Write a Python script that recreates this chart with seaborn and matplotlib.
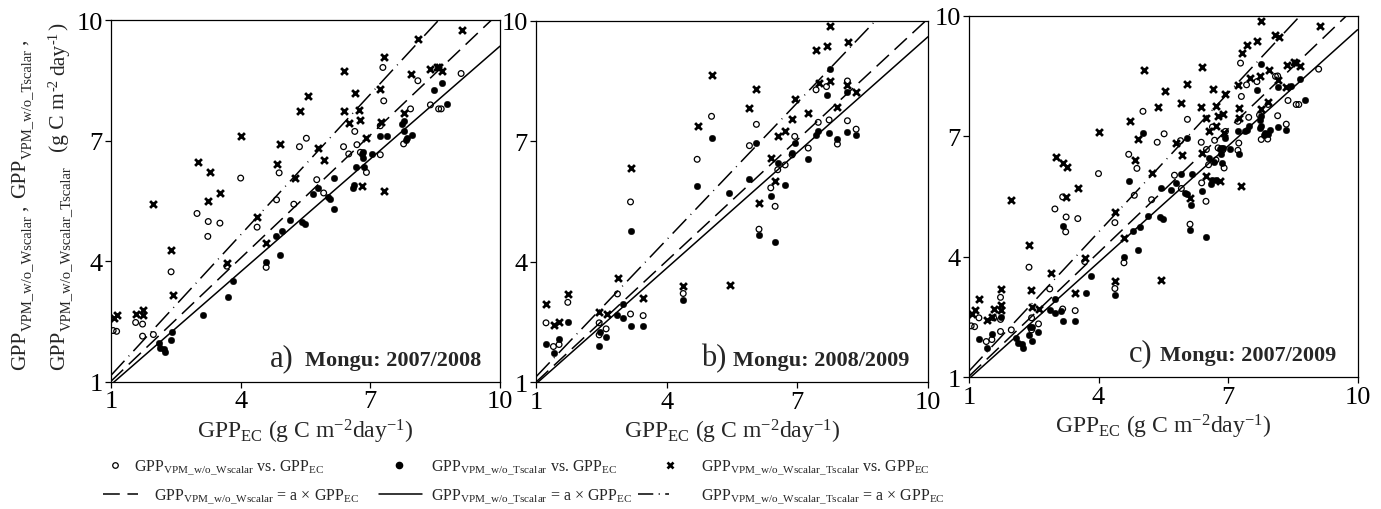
import numpy as np
import pandas as pd
import matplotlib
matplotlib.use("Agg")
import matplotlib.pyplot as plt
import seaborn as sns
from matplotlib.lines import Line2D

sns.set_theme(style="ticks")
plt.rcParams.update({
    "font.family": ["Liberation Serif", "DejaVu Serif"],
    "mathtext.fontset": "custom",
    "mathtext.rm": "Liberation Serif",
    "mathtext.it": "Liberation Serif:italic",
    "mathtext.bf": "Liberation Serif:bold",
    "axes.edgecolor": "black",
    "axes.linewidth": 0.9,
    "xtick.color": "black",
    "ytick.color": "black",
    "xtick.direction": "out",
    "ytick.direction": "out",
    "xtick.major.size": 4,
    "ytick.major.size": 4,
    "xtick.major.width": 0.9,
    "ytick.major.width": 0.9,
})

# ---------------- Mongu 2007/2008 ----------------
a_w_x = [1.05, 1.13, 1.57, 1.73, 1.73, 1.98, 2.39, 2.99, 3.25, 3.24, 3.52, 3.68, 4.00, 4.38,
         4.59, 4.83, 4.89, 5.23, 5.36, 5.52, 5.76, 5.92, 6.38, 6.50, 6.64, 6.69, 6.77, 6.91,
         7.23, 7.23, 7.29, 7.31, 7.77, 7.93, 8.10, 8.39, 8.58, 8.64, 9.10]
a_w_y = [2.28, 2.26, 2.48, 2.44, 2.14, 2.18, 3.74, 5.19, 4.99, 4.62, 4.95, 3.88, 6.07, 4.85,
         3.85, 5.53, 6.20, 5.42, 6.85, 7.06, 6.03, 5.70, 6.85, 6.67, 7.23, 6.90, 6.71, 6.21,
         6.65, 7.37, 8.82, 7.99, 6.92, 7.79, 8.49, 7.89, 7.79, 7.79, 8.67]

a_t_x = [2.10, 2.14, 2.22, 2.24, 2.39, 2.42, 3.12, 3.70, 3.83, 4.58, 4.92, 4.81, 4.96, 5.15,
         5.42, 5.49, 5.67, 5.80, 6.01, 6.06, 6.17, 6.15, 6.61, 6.63, 6.67, 6.81, 6.83, 6.84,
         6.86, 7.04, 7.23, 7.39, 7.73, 7.77, 7.77, 7.83, 7.85, 7.97, 8.47, 8.66, 8.78]
a_t_y = [1.98, 1.85, 1.83, 1.74, 2.05, 2.24, 2.66, 3.11, 3.51, 3.99, 4.16, 4.64, 4.75, 5.02,
         4.99, 4.93, 5.67, 5.83, 5.59, 5.55, 6.07, 5.30, 5.82, 5.90, 6.35, 6.67, 6.57, 6.71,
         6.34, 6.67, 7.12, 7.12, 7.41, 7.50, 7.25, 7.02, 7.07, 7.15, 8.26, 8.43, 7.91]

a_wt_x = [1.08, 1.15, 1.57, 1.73, 1.73, 1.98, 2.39, 2.44, 3.01, 3.28, 3.25, 3.52, 3.68, 4.01,
          4.38, 4.59, 4.84, 4.91, 5.25, 5.38, 5.55, 5.80, 5.93, 6.38, 6.40, 6.50, 6.65, 6.73,
          6.77, 6.81, 6.91, 7.23, 7.25, 7.31, 7.32, 7.77, 7.94, 8.10, 8.37, 8.54, 8.58, 8.66, 9.12]
a_wt_y = [2.58, 2.67, 2.69, 2.80, 2.67, 5.42, 4.29, 3.17, 6.48, 6.23, 5.49, 5.71, 3.97, 7.11,
          5.11, 4.46, 6.42, 6.92, 6.08, 7.73, 8.12, 6.82, 6.53, 7.74, 8.72, 7.45, 8.18, 7.76,
          7.51, 5.88, 7.07, 8.28, 7.46, 5.75, 9.07, 7.68, 8.65, 9.52, 8.77, 8.84, 8.82, 8.74, 9.75]

# ---------------- Mongu 2008/2009 ----------------
b_w_x = [1.23, 1.40, 1.53, 1.73, 2.45, 2.45, 2.61, 2.87, 3.17, 3.17, 3.46, 4.38, 4.70, 5.03,
         5.90, 6.06, 6.12, 6.39, 6.49, 6.55, 6.72, 6.88, 6.94, 7.25, 7.43, 7.48, 7.67, 7.73,
         7.92, 8.15, 8.15, 8.35]
b_w_y = [2.48, 1.89, 1.94, 2.99, 2.48, 2.18, 2.33, 3.20, 5.49, 2.70, 2.66, 3.21, 6.55, 7.62,
         6.89, 7.42, 4.81, 5.84, 5.38, 6.29, 6.41, 6.66, 7.12, 6.83, 8.28, 7.47, 8.36, 7.53,
         6.93, 8.50, 7.51, 7.30]

b_t_x = [1.23, 1.42, 1.53, 1.73, 2.45, 2.47, 2.61, 2.87, 3.00, 2.99, 3.17, 3.17, 3.46, 4.38,
         4.70, 5.03, 5.44, 5.90, 6.06, 6.12, 6.39, 6.49, 6.55, 6.72, 6.88, 6.94, 7.25, 7.43,
         7.48, 7.67, 7.73, 7.76, 7.92, 8.15, 8.15, 8.35]
b_t_y = [1.95, 1.73, 2.09, 2.51, 1.90, 2.24, 2.12, 2.67, 2.95, 2.59, 4.76, 2.41, 2.41, 3.05,
         5.88, 7.07, 5.71, 6.06, 6.95, 4.67, 5.64, 4.50, 6.45, 5.91, 6.70, 6.95, 6.57, 7.15,
         7.26, 8.15, 7.20, 8.79, 7.05, 8.23, 7.24, 7.15]

b_wt_x = [1.23, 1.42, 1.53, 1.73, 2.45, 2.62, 2.89, 3.17, 3.46, 4.38, 4.72, 5.05, 5.45, 5.90,
          6.06, 6.12, 6.39, 6.49, 6.56, 6.72, 6.88, 6.94, 7.25, 7.43, 7.50, 7.67, 7.75, 7.76,
          7.92, 8.15, 8.17, 8.35]
b_wt_y = [2.94, 2.43, 2.49, 3.20, 2.74, 2.70, 3.59, 6.34, 3.09, 3.40, 7.37, 8.66, 3.43, 7.82,
          8.31, 5.46, 6.59, 6.02, 7.14, 7.25, 7.55, 8.06, 7.70, 9.27, 8.44, 9.37, 8.50, 9.87,
          7.84, 8.40, 9.47, 8.23]

# Regression slopes (through the origin): w/o Wscalar, w/o Tscalar, w/o both
slopes_a = [1.02, 0.935, 1.165]
slopes_b = [1.005, 0.96, 1.137]
slopes_c = [1.026, 0.965, 1.153]

panels = [
    ("a)", "Mongu: 2007/2008",
     (a_w_x, a_w_y), (a_t_x, a_t_y), (a_wt_x, a_wt_y), slopes_a),
    ("b)", "Mongu: 2008/2009",
     (b_w_x, b_w_y), (b_t_x, b_t_y), (b_wt_x, b_wt_y), slopes_b),
    ("c)", "Mongu: 2007/2009",
     (a_w_x + b_w_x, a_w_y + b_w_y), (a_t_x + b_t_x, a_t_y + b_t_y),
     (a_wt_x + b_wt_x, a_wt_y + b_wt_y), slopes_c),
]

ticks = [1, 4, 7, 10]
line_x = np.array([1.0, 10.0])

W, H = 1381, 510
fig = plt.figure(figsize=(W / 100, H / 100), dpi=100)
rects = [
    [111 / W, 1 - 383 / H, 389 / W, 362 / H],
    [536 / W, 1 - 383.3 / H, 392 / W, 361.6 / H],
    [969 / W, 1 - 378.3 / H, 388.5 / W, 361.6 / H],
]
tag_pos = [(0.409, 0.499, 0.047), (0.421, 0.503, 0.047), (0.411, 0.491, 0.047)]

DASHED = (0, (11, 5))
DASHDOT = (0, (13, 4, 0.6, 4))
DASHDOT_KEY = (0, (10, 3.5, 0.8, 3.5))

xlabel = r"GPP$_{\mathrm{EC}}$ (g C m$^{\mathrm{-2}}$day$^{\mathrm{-1}}$)"

for (tag, site, circ, dots, crosses, slopes), rect, tp in zip(panels, rects, tag_pos):
    ax = fig.add_axes(rect)
    sns.scatterplot(x=circ[0], y=circ[1], ax=ax, marker="o", s=17,
                    facecolor="none", edgecolor="black", linewidth=0.9, zorder=3)
    sns.scatterplot(x=dots[0], y=dots[1], ax=ax, marker="o", s=22,
                    color="black", edgecolor="black", linewidth=0.3, zorder=3)
    sns.scatterplot(x=crosses[0], y=crosses[1], ax=ax, marker="x", s=24,
                    color="black", linewidth=2.0, zorder=3)
    sns.lineplot(x=line_x, y=slopes[0] * line_x, ax=ax, color="black",
                 linewidth=1.1, linestyle=DASHED)
    sns.lineplot(x=line_x, y=slopes[1] * line_x, ax=ax, color="black",
                 linewidth=1.1, linestyle="-")
    sns.lineplot(x=line_x, y=slopes[2] * line_x, ax=ax, color="black",
                 linewidth=1.1, linestyle=DASHDOT)
    ax.set_xlim(1, 10)
    ax.set_ylim(1, 10)
    ax.set_xticks(ticks)
    ax.set_yticks(ticks)
    ax.tick_params(labelsize=19, pad=2)
    ax.set_xlabel(xlabel, fontsize=17, labelpad=3)
    ax.set_ylabel("")
    ax.text(tp[0], tp[2], tag, transform=ax.transAxes, fontsize=22,
            ha="left", va="baseline")
    ax.text(tp[1], tp[2], site, transform=ax.transAxes, fontsize=16,
            fontweight="bold", ha="left", va="baseline")

# Rotated y label assembled from pieces so the subscripts stay small
renderer = fig.canvas.get_renderer()


def vertical_run(x_base, y_start, pieces):
    """Stack text pieces bottom-to-top; each piece is (text, size, dx, gap)."""
    y = y_start
    for text, size, dx, gap in pieces:
        t = fig.text((x_base + dx) / W, 1 - y / H, text, fontsize=size,
                     rotation=90, rotation_mode="anchor",
                     ha="left", va="baseline")
        y -= t.get_window_extent(renderer).height + gap


BIG, SMALL = 15.5, 10.5
vertical_run(25, 370, [
    ("GPP", BIG, 0, 0),
    ("VPM_w/o_Wscalar", SMALL, 6, 4),
    (",", BIG, 0, 7),
    ("GPP", BIG, 0, 0),
    ("VPM_w/o_Tscalar", SMALL, 6, 4),
    (",", BIG, 0, 0),
])
vertical_run(64, 370, [
    ("GPP", BIG, 0, 0),
    ("VPM_w/o_Wscalar_Tscalar", SMALL, 6, 14),
    ("(g C m", BIG, 0, 1),
    ("-2", SMALL, -7, 4),
    ("day", BIG, 0, 0),
    ("-1", SMALL, -7, 2),
    (")", BIG, 0, 0),
])

# Legend keys
h_circ = Line2D([], [], marker="o", ls="none", mfc="none", mec="black", mew=0.9, ms=4)
h_dot = Line2D([], [], marker="o", ls="none", mfc="black", mec="black", ms=4.5)
h_cross = Line2D([], [], marker="x", ls="none", color="black", mew=1.9, ms=4.5)
h_dash = Line2D([], [], color="black", lw=1.1, ls=DASHED)
h_solid = Line2D([], [], color="black", lw=1.1, ls="-")
h_dashdot = Line2D([], [], color="black", lw=1.1, ls=DASHDOT_KEY)

lab_w = r"GPP$_{\mathrm{VPM\_w/o\_Wscalar}}$"
lab_t = r"GPP$_{\mathrm{VPM\_w/o\_Tscalar}}$"
lab_wt = r"GPP$_{\mathrm{VPM\_w/o\_Wscalar\_Tscalar}}$"
vs_ec = r" vs. GPP$_{\mathrm{EC}}$"
eq_ec = r" = a $\times$ GPP$_{\mathrm{EC}}$"

LEG_FS = 11.5
fs_px = LEG_FS * 100 / 72
# (handle, label, left edge px, centre y px, key length px, key-to-text px)
legend_items = [
    (h_circ, lab_w + vs_ec, 104, 468, 22, 8),
    (h_dash, lab_w + eq_ec, 103, 497, 35, 16),
    (h_dot, lab_t + vs_ec, 388, 468, 22, 21),
    (h_solid, lab_t + eq_ec, 379, 497, 43, 9),
    (h_cross, lab_wt + vs_ec, 659, 468, 22, 20),
    (h_dashdot, lab_wt + eq_ec, 638, 497, 31, 32),
]
for handle, label, xp, yp, klen, kpad in legend_items:
    fig.legend(handles=[handle], labels=[label], loc="center left",
               bbox_to_anchor=(xp / W, 1 - yp / H), frameon=False, fontsize=LEG_FS,
               handlelength=klen / fs_px, handletextpad=kpad / fs_px,
               borderpad=0, borderaxespad=0, numpoints=1)

fig.savefig("out.png", dpi=100)
